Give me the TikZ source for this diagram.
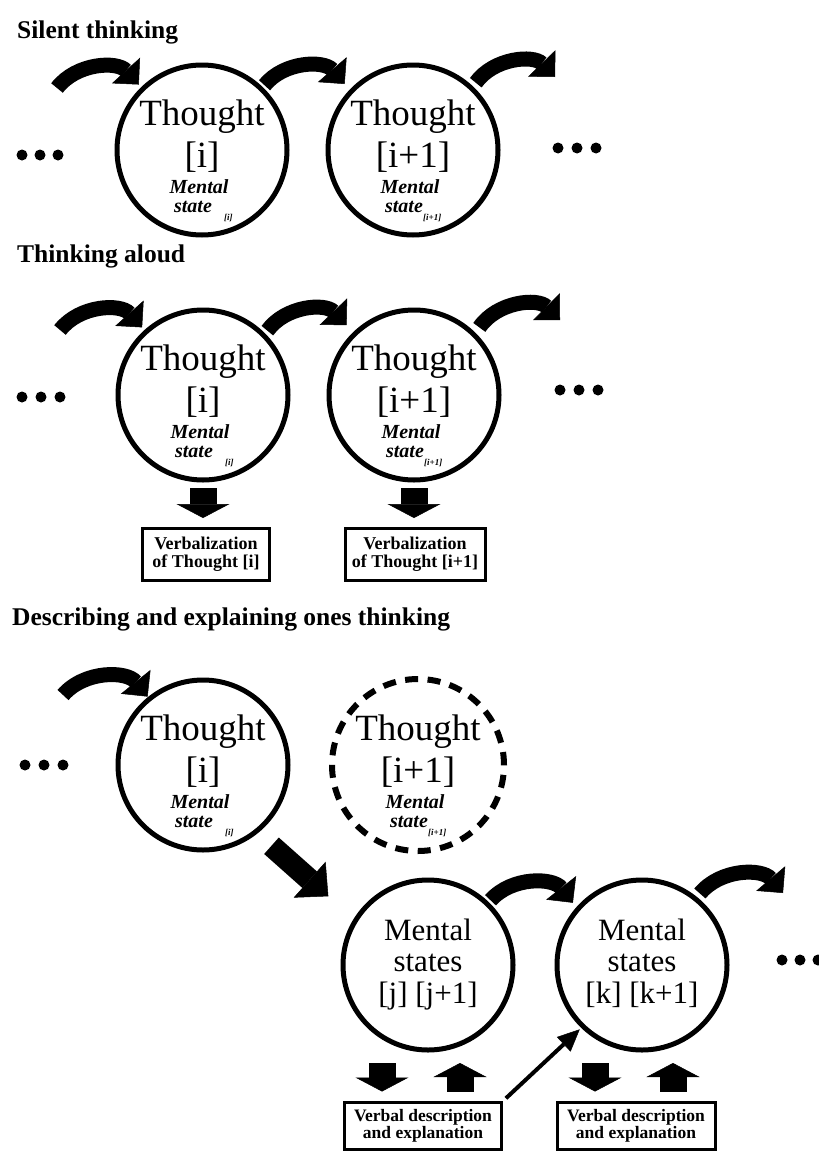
\documentclass[tikz,border=0pt]{standalone}
\usepackage{fontspec}
\setmainfont{Liberation Serif}
\usetikzlibrary{arrows.meta,calc}
\newcommand\ThoughtLabels[4]{%
  \node[big] (#1t) at ($(#1)+(0,25)$) {Thought};
  \node[big] (#1i) at ($(#1)+(0,-17)$) {[#2]};
  \node[mental] (#1m) at ($(#1)+(-3,-43)$) {Mental};
  \node[mental] (#1s) at ($(#1)+(-9,-62)$) {state};
  \node[sublbl] (#1u) at ($(#1)+(#4,-70)$) {[#3]};
}
\newcommand\MentalLabels[3]{%
  \node[msfont] (#1a) at ($(#1)+(0,25)$) {Mental};
  \node[msfont] (#1b) at ($(#1)+(0,-6)$) {states};
  \node[msfont] (#1c) at ($(#1)+(0,-38)$) {[#2] [#3]};
}
\begin{document}
\begin{tikzpicture}[x=1pt,y=1pt,
  circ/.style={circle, draw, line width=5pt, minimum size=170pt, inner sep=0pt},
  dashcirc/.style={circle, draw, line width=6pt, minimum size=172pt, inner sep=0pt, dash pattern=on 13pt off 9.5pt},
  title/.style={anchor=base west, inner sep=0pt, font=\fontsize{25.5}{25.5}\selectfont\bfseries},
  big/.style={anchor=base, inner sep=0pt, font=\fontsize{37}{37}\selectfont},
  msfont/.style={anchor=base, inner sep=0pt, font=\fontsize{31}{31}\selectfont},
  mental/.style={anchor=base, inner sep=0pt, font=\fontsize{20}{20}\selectfont\bfseries\itshape},
  sublbl/.style={anchor=base west, inner sep=0pt, font=\fontsize{9}{9}\selectfont\bfseries\itshape},
  vbox/.style={draw, line width=3pt, align=center, inner sep=1pt, font=\fontsize{18}{18}\selectfont\bfseries},
  wbox/.style={draw, line width=3pt, align=center, inner sep=1pt, font=\fontsize{17.5}{17.5}\selectfont\bfseries},
  curved/.style={line width=15pt, -{Triangle[width=38pt,length=19pt,line width=0.5pt]}, bend left=50},
  blk/.style={line width=27pt, -{Triangle[width=53pt,length=14pt,line width=0.5pt]}},
  diag/.style={line width=22pt, -{Triangle[width=48pt,length=25pt,line width=0.5pt]}},
  slim/.style={line width=4pt, -{Triangle[width=20pt,length=22pt,line width=0.5pt]}},
  dot/.style={fill=black}
]
\useasboundingbox (0,0) rectangle (819,-1151);

% ---------- Silent thinking ----------
\node[title] (t1) at (17,-38) {Silent thinking};
\node[circ] (a1) at (202,-150) {};
\node[circ] (a2) at (413,-150) {};
\ThoughtLabels{a1}{i}{i}{22}
\ThoughtLabels{a2}{i+1}{i+1}{10}
\foreach \x in {22,40,58} \fill[dot] (\x,-155) circle (5.5);
\foreach \x in {558,577,596} \fill[dot] (\x,-148) circle (5.5);
\coordinate (a0s) at ($(a1)+(-145,62)$);
\coordinate (a3e) at ($(a2)+(142,73)$);
\draw[curved] (a0s) to ($(a1)+(134:91)$);
\draw[curved] ($(a1)+(46:90)$) to ($(a2)+(136:95)$);
\draw[curved] ($(a2)+(47:92)$) to (a3e);

% ---------- Thinking aloud ----------
\node[title] (t2) at (17,-262) {Thinking aloud};
\node[circ] (b1) at (203,-395) {};
\node[circ] (b2) at (414,-395) {};
\ThoughtLabels{b1}{i}{i}{22}
\ThoughtLabels{b2}{i+1}{i+1}{10}
\foreach \x in {22,41,60} \fill[dot] (\x,-397) circle (5.5);
\foreach \x in {560,579,598} \fill[dot] (\x,-390) circle (5.5);
\coordinate (b0s) at ($(b1)+(-143,65)$);
\coordinate (b3e) at ($(b2)+(146,75)$);
\draw[curved] (b0s) to ($(b1)+(132:91)$);
\draw[curved] ($(b1)+(45:91)$) to ($(b2)+(134:97)$);
\draw[curved] ($(b2)+(46:94)$) to (b3e);
\node[vbox, minimum width=127pt, minimum height=52pt] (v1) at (206,-554) {Verbalization\\of Thought [i]};
\node[vbox, minimum width=140pt, minimum height=52pt] (v2) at (415,-554) {Verbalization\\of Thought [i+1]};
\draw[blk, shorten <=5.5pt, shorten >=8.5pt] (b1.south) -- (b1.south |- v1.north);
\draw[blk, shorten <=5.5pt, shorten >=8.5pt] (b2.south) -- (b2.south |- v2.north);

% ---------- Describing and explaining ----------
\node[title] (t3) at (12,-625) {Describing and explaining ones thinking};
\node[circ] (c1) at (203,-765) {};
\node[dashcirc] (c2) at (418,-765) {};
\ThoughtLabels{c1}{i}{i}{22}
\ThoughtLabels{c2}{i+1}{i+1}{10}
\foreach \x in {25,44,63} \fill[dot] (\x,-765) circle (5.5);
\coordinate (c0s) at ($(c1)+(-140,70)$);
\draw[curved] (c0s) to ($(c1)+(129:88)$);

\node[circ] (m1) at (428,-965) {};
\node[circ] (m2) at (642,-965) {};
\MentalLabels{m1}{j}{j+1}
\MentalLabels{m2}{k}{k+1}
\draw[diag, shorten <=105pt, shorten >=120pt] ([shift={(-10,-11)}]c1.center) -- ([shift={(-10,-11)}]m1.center);
\coordinate (m3e) at ($(m2)+(141,72)$);
\draw[curved] ($(m1)+(46:90)$) to ($(m2)+(138:93)$);
\draw[curved] ($(m2)+(51:92)$) to (m3e);
\foreach \x in {782,800,818} \fill[dot] (\x,-960) circle (5.5);

\node[wbox, minimum width=157pt, minimum height=47pt] (w1) at (423,-1126) {Verbal description\\and explanation};
\node[wbox, minimum width=158pt, minimum height=47pt] (w2) at (636,-1126) {Verbal description\\and explanation};
\draw[blk, shorten <=10.5pt, shorten >=9.5pt] ([xshift=-46pt]m1.south) -- ([xshift=-46pt]m1.south |- w1.north);
\draw[blk, shorten <=9.5pt, shorten >=10.5pt] ([xshift=32pt]m1.south |- w1.north) -- ([xshift=32pt]m1.south);
\draw[blk, shorten <=10.5pt, shorten >=9.5pt] ([xshift=-47pt]m2.south) -- ([xshift=-47pt]m2.south |- w2.north);
\draw[blk, shorten <=9.5pt, shorten >=10.5pt] ([xshift=31pt]m2.south |- w2.north) -- ([xshift=31pt]m2.south);
\draw[slim, shorten <=4pt, shorten >=2pt] (w1.north east) -- (m2.226);
\end{tikzpicture}
\end{document}
